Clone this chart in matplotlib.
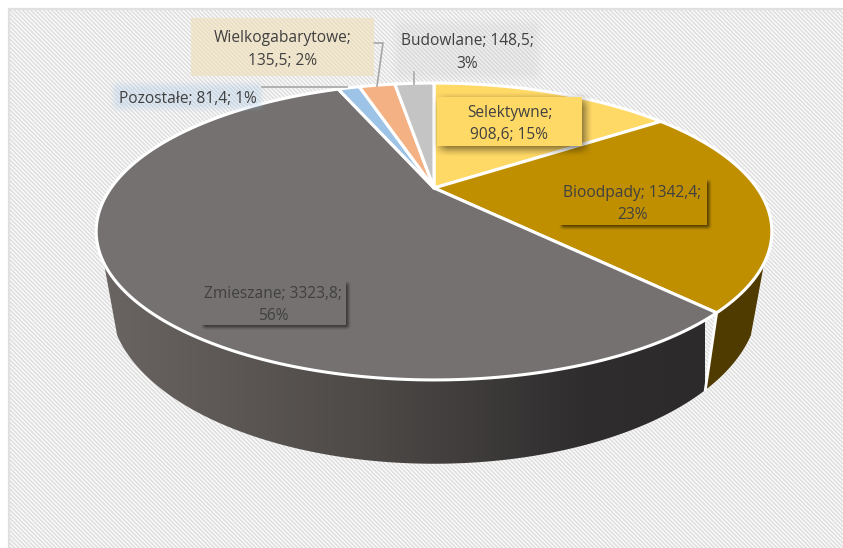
import numpy as np
import matplotlib
matplotlib.use('Agg')
import matplotlib.pyplot as plt
from matplotlib.patches import Polygon, Rectangle

# dane
categories = ['Selektywne', 'Bioodpady', 'Zmieszane', 'Pozostałe', 'Wielkogabarytowe', 'Budowlane']
values = [908.6, 1342.4, 3323.8, 81.4, 135.5, 148.5]
percents = [15, 23, 56, 1, 2, 3]
colors = ['#FFD966', '#BF8F00', '#747170', '#9DC3E6', '#F4B183', '#C4C4C4']
labels = ['Selektywne;\n908,6; 15%', 'Bioodpady; 1342,4;\n23%', 'Zmieszane; 3323,8;\n56%',
          'Pozostałe; 81,4; 1%', 'Wielkogabarytowe;\n135,5; 2%', 'Budowlane; 148,5;\n3%']

plt.rcParams['font.family'] = ['Open Sans', 'DejaVu Sans']
plt.rcParams['hatch.linewidth'] = 1.3
plt.rcParams['hatch.color'] = '#e6e6e6'

W, H = 843, 548
CX, CY = 434, 188
fig = plt.figure(figsize=(W / 100, H / 100), dpi=100)
ax = fig.add_axes([0, 0, 1, 1])
ax.set_xlim(0, W)
ax.set_ylim(H, 0)
ax.axis('off')


# rzut perspektywiczny kola (kat liczony od godziny 12, zgodnie z zegarem)
def project(theta, a, b, k, cy):
    t = np.radians(theta)
    u, v = np.sin(t), np.cos(t)
    w = 1 + k * v
    return CX + a * u / w, cy - b * v / w


def top(theta):
    return project(theta, 323, 135.7, 0.293, CY)


def bottom(theta):
    return project(theta, 310, 149, 0.293, 253)


def blurred_box(x0, y0, x1, y1, color, alpha, blur, z):
    # prostokat z rozmytymi krawedziami
    xs = np.arange(x0 - 2 * blur, x1 + 2 * blur)
    ys = np.arange(y0 - 2 * blur, y1 + 2 * blur)
    fx = np.clip((xs - x0 + blur) / (2 * blur), 0, 1) * np.clip((x1 + blur - xs) / (2 * blur), 0, 1)
    fy = np.clip((ys - y0 + blur) / (2 * blur), 0, 1) * np.clip((y1 + blur - ys) / (2 * blur), 0, 1)
    fx = fx * fx * (3 - 2 * fx)
    fy = fy * fy * (3 - 2 * fy)
    rgba = np.zeros((len(ys), len(xs), 4))
    rgba[..., :3] = matplotlib.colors.to_rgb(color)
    rgba[..., 3] = np.outer(fy, fx) * alpha
    ax.imshow(rgba, extent=(xs[0], xs[-1], ys[-1], ys[0]), zorder=z, aspect='auto', interpolation='bilinear')


# tlo
ax.add_patch(Rectangle((8.5, 8.5), W + 10, H + 10, facecolor='white', edgecolor='#e0e0e0', lw=1.6,
                       hatch='\\\\\\\\\\\\\\\\', zorder=1))

angles = np.concatenate([[0], np.cumsum(values) / np.sum(values) * 360])

# sciana boczna
tangent = 118.4
a1 = angles[2]
th = np.linspace(a1, 360 - tangent, 200)
xt, yt = top(th)
xb, yb = bottom(th)
wall = Polygon(np.r_[np.c_[xt, yt], np.c_[xb, yb][::-1]], closed=True, facecolor='none', edgecolor='none', zorder=2)
ax.add_patch(wall)
grad = np.linspace(0, 1, 256).reshape(1, -1)
cmap = matplotlib.colors.LinearSegmentedColormap.from_list(
    'sciana', [(0, '#6a6562'), (0.45, '#4d4947'), (0.8, '#2f2d2e'), (1, '#2c2a2b')])
im = ax.imshow(grad, extent=(100, 705, 470, 230), cmap=cmap, aspect='auto', zorder=2)
im.set_clip_path(wall)

th = np.linspace(tangent, a1, 60)
xt, yt = top(th)
xb, yb = bottom(th)
ax.add_patch(Polygon(np.r_[np.c_[xt, yt], np.c_[xb, yb][::-1]], closed=True, facecolor='#4F3A00',
                     edgecolor='none', zorder=2))
x0, y0 = top(a1)
x1, y1 = bottom(a1)
ax.plot([x0, x1], [y0, y1], color='white', lw=2, zorder=3)

# wycinki
for i in range(len(values)):
    th = np.linspace(angles[i], angles[i + 1], 200)
    xt, yt = top(th)
    ax.add_patch(Polygon(np.r_[[[CX, CY]], np.c_[xt, yt]], closed=True, facecolor=colors[i],
                         edgecolor='white', lw=2.2, joinstyle='round', zorder=4))

# linie odniesienia
lc = '#a6a6a6'
ax.plot([262, 347], [87, 87], color=lc, lw=1.2, zorder=5)
ax.plot([374, 383, 377], [43, 43, 86], color=lc, lw=1.2, zorder=5)
ax.plot([414, 414], [72, 84], color=lc, lw=1.2, zorder=5)

# etykiety
boxes = [(437, 97, 582, 146), (558, 178, 707, 225), (200, 280, 346, 325),
         (113, 84, 262, 109), (191, 18, 374, 76), (395, 22, 539, 78)]
shadows = [(3, 3, 0.6, 9), (3, 3, 0.55, 3), (3, 3, 0.5, 3)]
for i, (x0, y0, x1, y1) in enumerate(boxes):
    if i < 3:
        dx, dy, al, bl = shadows[i]
        blurred_box(x0 + dx, y0 + dy, x1 + dx, y1 + dy, '#000000', al, bl, 6)
        ax.add_patch(Rectangle((x0, y0), x1 - x0, y1 - y0, facecolor=colors[i], edgecolor='none', zorder=7))
    elif i == 4:
        ax.add_patch(Rectangle((x0, y0), x1 - x0, y1 - y0, facecolor='#F0DDB5', alpha=0.6, edgecolor='none', zorder=6))
    elif i == 3:
        blurred_box(x0, y0, x1, y1, colors[i], 0.28, 5, 6)
    else:
        blurred_box(x0, y0, x1, y1, colors[i], 0.2, 6, 6)
    ax.text((x0 + x1) / 2, (y0 + y1) / 2 + 2.5, labels[i], ha='center', va='center', fontsize=11.2,
            color='#404040', linespacing=1.55, zorder=8)

plt.savefig('out.png', dpi=100)
